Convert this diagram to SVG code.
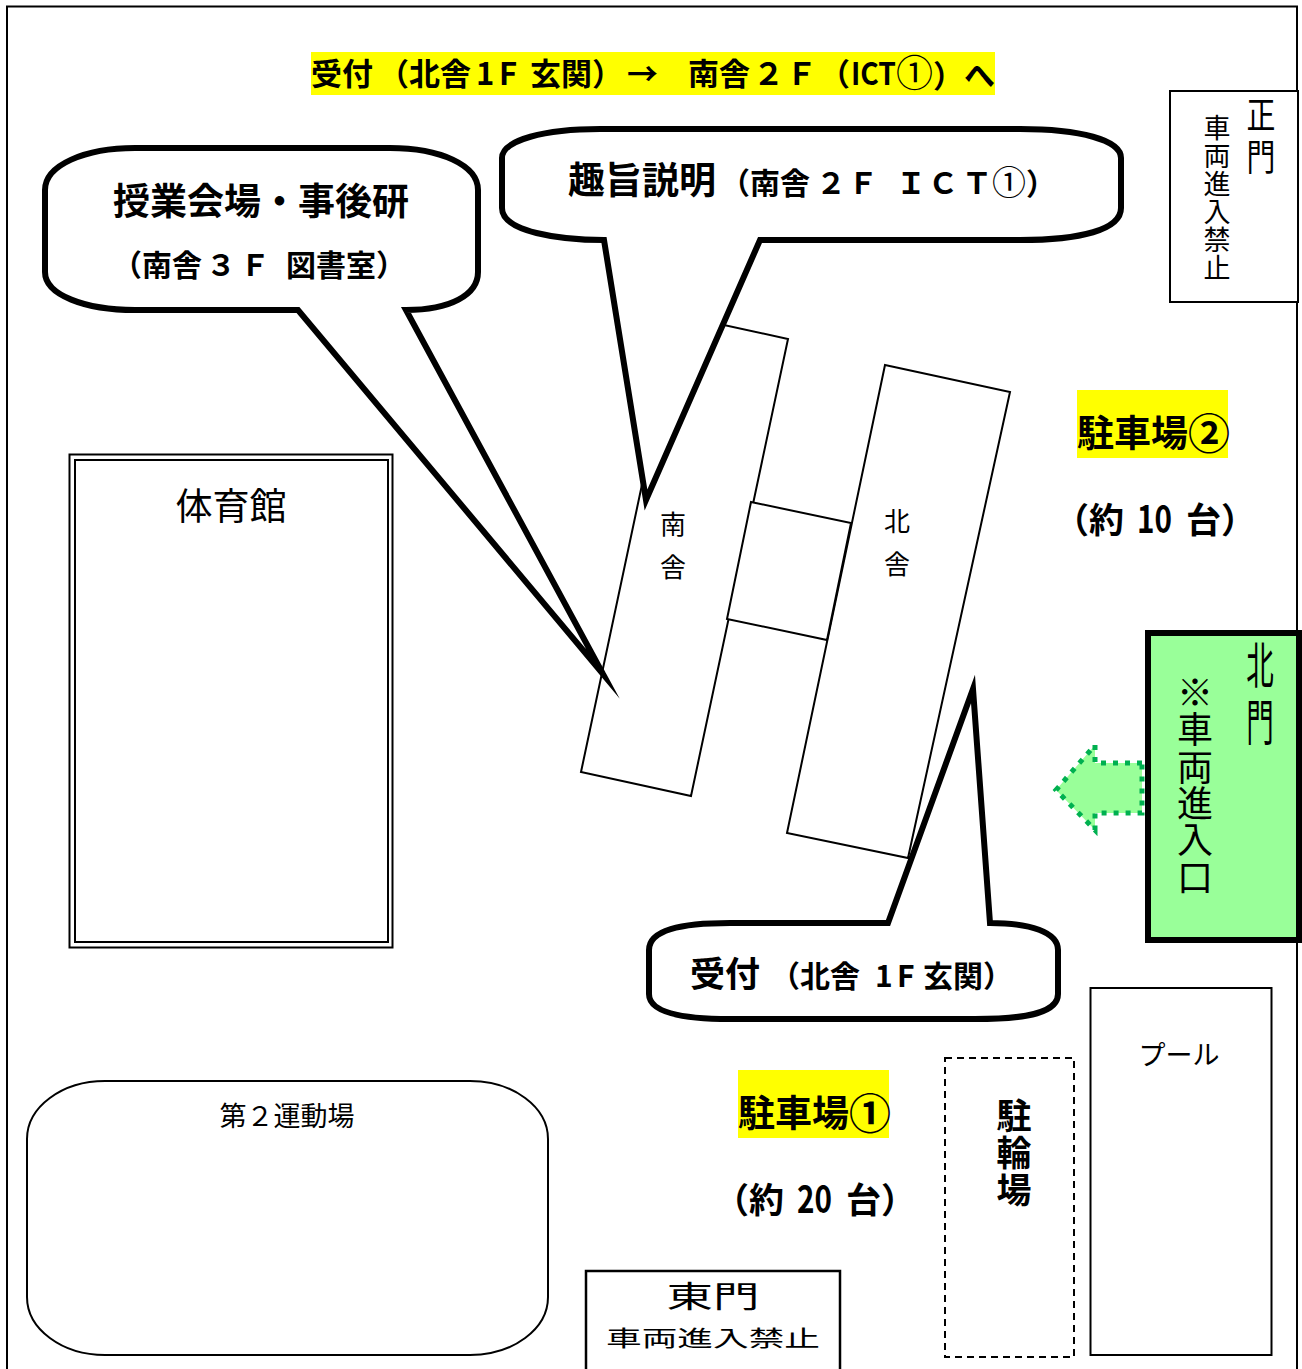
<svg xmlns="http://www.w3.org/2000/svg" width="1302" height="1369" viewBox="0 0 1302 1369">
<style>
text{font-family:"Noto Sans CJK JP","Liberation Sans",sans-serif;fill:#000}
.b{font-weight:700}
.m{text-anchor:middle}
.o{fill:#fff;stroke:#000;stroke-width:2}
.c{fill:#fff;stroke:#000;stroke-width:6;stroke-linejoin:miter;stroke-miterlimit:30}
.y{fill:#ff0}
</style>
<rect id="frame" x="7" y="6.500" width="1290" height="1375" fill="#fff" stroke="#000" stroke-width="2"/>
<g id="title"><rect class="y" x="311" y="52" width="684" height="43"/>
<text class="b" font-size="31" y="85"><tspan x="311">受付</tspan><tspan x="378">（北舎</tspan><tspan x="476">1</tspan><tspan x="499">F</tspan><tspan x="530">玄関）</tspan><tspan x="627">→</tspan><tspan x="688">南舎</tspan><tspan x="753">２</tspan><tspan x="786">Ｆ</tspan><tspan x="819">（</tspan><tspan x="851" textLength="45" lengthAdjust="spacingAndGlyphs">ICT</tspan><tspan x="896" y="87" font-size="37" font-weight="400">①</tspan><tspan x="933">）</tspan><tspan x="964">へ</tspan></text></g>
<g id="seimon"><rect class="o" x="1170" y="91" width="128" height="211"/>
<text class="m" font-size="37" transform="translate(1261 0) scale(.78 1)" x="0 0" y="129 171">正門</text>
<text class="m" font-size="27" x="1217 1217 1217 1217 1217 1217" y="138 166 194 222 250 278">車両進入禁止</text></g>
<g id="gym"><rect fill="#fff" stroke="#000" stroke-width="2" x="69.500" y="454.500" width="323" height="493"/><rect fill="none" stroke="#000" stroke-width="2" x="75" y="460" width="313" height="482"/>
<text class="m" font-size="37" x="231" y="520">体育館</text></g>
<g id="field2"><rect class="o" x="27" y="1081" width="521" height="274" rx="78" ry="58"/>
<text class="m" font-size="27" x="287" y="1126">第２運動場</text></g>
<g id="south"><polygon class="o" points="678,315 788,339 691,796 581,772"/>
<text class="m" font-size="26" x="673 673" y="534 577">南舎</text></g>
<g id="north"><polygon class="o" points="885,365 1010,392 908,858 787,833"/>
<text class="m" font-size="26" x="897 897" y="531 574">北舎</text></g>
<g id="link"><polygon class="o" points="751,502 851,523 827,640 727,619"/></g>
<g id="callout-lecture"><path class="c" d="M298,310 H135 C85,310 45,295 45,272 V190 C45,165 85,148 135,148 H390 C440,148 478,165 478,190 V272 C478,295 450,310 406,310 L603,674 Z"/>
<text class="b m" font-size="37" x="261" y="215">授業会場・事後研</text>
<text class="b" font-size="30" y="276"><tspan x="112">（南舎</tspan><tspan x="206">３</tspan><tspan x="240">Ｆ</tspan><tspan x="286">図書室）</tspan></text></g>
<g id="callout-intro"><path class="c" d="M604,240 C560,240 502,232 502,208 V158 C502,140 545,129 600,129 H1020 C1080,129 1121,140 1121,158 V208 C1121,230 1080,240 1020,240 H760 L646,500 Z"/>
<text class="b" font-size="37" x="568" y="194">趣旨説明</text>
<text class="b" font-size="30" y="194"><tspan x="720">（南舎</tspan><tspan x="816">２</tspan><tspan x="848">Ｆ</tspan><tspan x="896">Ｉ</tspan><tspan x="928">Ｃ</tspan><tspan x="962">Ｔ</tspan><tspan x="992" y="195" font-size="34" font-weight="400">①</tspan><tspan x="1026">）</tspan></text></g>
<g id="callout-reception"><path class="c" d="M888,923 H730 C680,923 649,930 649,950 V994 C649,1012 680,1019 730,1019 H975 C1030,1019 1058,1012 1058,994 V950 C1058,932 1030,923 990,923 L973,689 Z"/>
<text class="b" font-size="35" x="690" y="987">受付</text>
<text class="b" font-size="30" y="987"><tspan x="770">（北舎</tspan><tspan x="875">1</tspan><tspan x="897">F</tspan><tspan x="923">玄関）</tspan></text></g>
<g id="parking2"><rect class="y" x="1077" y="390" width="151" height="68"/>
<text class="b" font-size="37" y="447"><tspan x="1077">駐車場</tspan><tspan x="1188" y="449" font-size="42">②</tspan></text>
<text class="b" font-size="35" y="533"><tspan x="1054">（約</tspan><tspan x="1137" font-size="38" textLength="35" lengthAdjust="spacingAndGlyphs">10</tspan><tspan x="1186">台）</tspan></text></g>
<g id="kitamon"><rect x="1148" y="633" width="151" height="307" fill="#9f9" stroke="#000" stroke-width="6"/>
<text class="m" font-size="50" transform="translate(1260 0) scale(.55 1)" x="0 0" y="684 741">北門</text>
<text class="m" font-size="36" x="1195 1195 1195 1195 1195 1195" y="706 743 781 817 853 891">※車両進入口</text></g>
<g id="arrow"><polygon points="1142,763 1095,763 1095,745 1056,790 1095,830 1095,813 1142,813" fill="#9f9" stroke="#00b050" stroke-width="5" stroke-dasharray="5 7"/></g>
<g id="parking1"><rect class="y" x="738" y="1070" width="151" height="68"/>
<text class="b" font-size="37" y="1127"><tspan x="738">駐車場</tspan><tspan x="849" y="1129" font-size="42">①</tspan></text>
<text class="b" font-size="35" y="1213"><tspan x="714">（約</tspan><tspan x="797" font-size="38" textLength="35" lengthAdjust="spacingAndGlyphs">20</tspan><tspan x="846">台）</tspan></text></g>
<g id="churin"><rect x="945" y="1058" width="129" height="299" fill="#fff" stroke="#000" stroke-width="2" stroke-dasharray="7 5"/>
<text class="b m" font-size="35" x="1014 1014 1014" y="1129 1166 1203">駐輪場</text></g>
<g id="pool"><rect class="o" x="1090.500" y="988" width="181" height="367"/>
<text class="m" font-size="27" x="1179" y="1065">プール</text></g>
<g id="higashimon"><rect fill="#fff" stroke="#000" stroke-width="2.500" x="586" y="1271" width="254" height="110"/>
<text class="m" font-size="30" transform="translate(713 0) scale(1.55 1)" x="0" y="1307">東門</text>
<text class="m" font-size="22" x="713" y="1346" textLength="214" lengthAdjust="spacingAndGlyphs">車両進入禁止</text></g>
</svg>
